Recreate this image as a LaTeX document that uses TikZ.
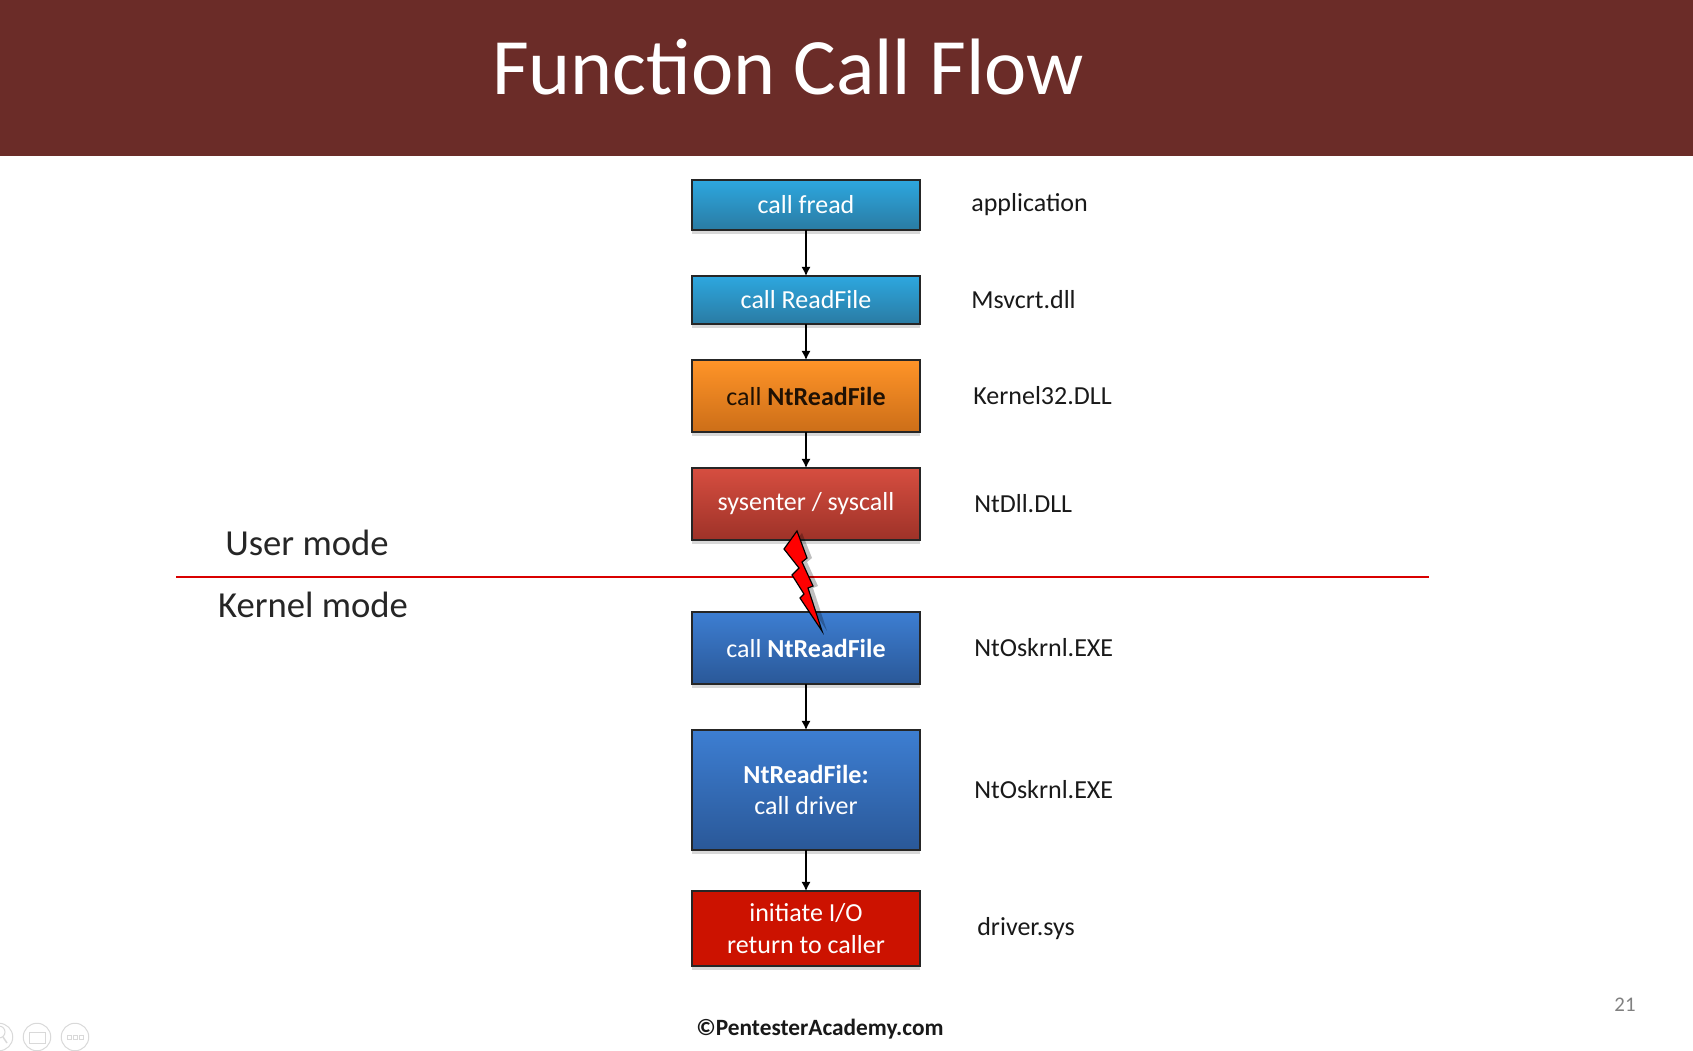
\documentclass[tikz,border=0pt]{standalone}
\usepackage{fontspec}
\setmainfont{Carlito}
\usetikzlibrary{arrows.meta,positioning,shadows}

\begin{document}
\begin{tikzpicture}[
    x=0.6pt, y=-0.6pt,
    callbox/.style={draw=black!85, line width=0.9pt, minimum width=136.8pt, inner sep=0pt, outer sep=0pt, align=center,
      text=white, font=\fontsize{15.6}{19}\selectfont,
      drop shadow={opacity=.3, shadow xshift=0pt, shadow yshift=-2.4pt}},
    bluebox/.style={callbox, top color=blue1top, bottom color=blue1bot},
    orangebox/.style={callbox, top color=orangetop, bottom color=orangebot, text=black!85!orangebot},
    redbox/.style={callbox, top color=red1top, bottom color=red1bot},
    deepbox/.style={callbox, top color=deeptop, bottom color=deepbot},
    solidbox/.style={callbox, fill=solidred},
    dll/.style={inner sep=0pt, anchor=west, font=\fontsize{15.6}{19}\selectfont, text=black!90},
    mode/.style={inner sep=0pt, font=\fontsize{22}{26}\selectfont, text=black!85},
    arrow/.style={-{Latex[length=5.5pt,width=5.5pt]}, line width=0.8pt},
    roundicon/.style={circle, draw=black!15, line width=0.6pt, minimum size=16.5pt, inner sep=0pt}
  ]
    \definecolor{bartitle}{HTML}{6B2C28}
    \definecolor{blue1top}{HTML}{2DA7DF}
    \definecolor{blue1bot}{HTML}{2A7BA3}
    \definecolor{orangetop}{HTML}{FF9428}
    \definecolor{orangebot}{HTML}{CC6E18}
    \definecolor{red1top}{HTML}{D64E40}
    \definecolor{red1bot}{HTML}{9E3228}
    \definecolor{deeptop}{HTML}{3D7ED2}
    \definecolor{deepbot}{HTML}{2A5898}
    \definecolor{solidred}{HTML}{CC1200}
    \useasboundingbox (0,0) rectangle (1693,1051);
    \fill[white] (0,0) rectangle (1693,1051);
    \fill[bartitle] (0,0) rectangle (1693,156);
    \node[text=white, inner sep=0pt, font=\fontsize{48}{56}\selectfont] (title) at (788,67) {Function Call Flow};

    \node[bluebox, minimum height=30pt] (fread) at (806,205) {call fread};
    \node[bluebox, minimum height=28.8pt, below=27.6pt of fread] (readfile) {call ReadFile};
    \node[orangebox, minimum height=43.2pt, below=21.6pt of readfile] (ntread) {call \textbf{NtReadFile}};
    \node[redbox, minimum height=43.2pt, below=21.6pt of ntread] (sys) {sysenter / syscall};
    \node[deepbox, minimum height=43.2pt, below=43.2pt of sys] (kcall) {call \textbf{NtReadFile}};
    \node[deepbox, minimum height=72pt, below=27.6pt of kcall] (kread) {\textbf{NtReadFile:}\\call driver};
    \node[solidbox, minimum height=45pt, below=24.6pt of kread] (driver) {initiate I/O\\return to caller};

    \node[dll, right=30.6pt of fread] (appname) {application};
    \node[dll, right=30.6pt of readfile] (msvcrt) {Msvcrt.dll};
    \node[dll, right=31.8pt of ntread] (k32) {Kernel32.DLL};
    \node[dll, right=32.4pt of sys] (ntdll) {NtDll.DLL};
    \node[dll, right=32.4pt of kcall] (nto1) {NtOskrnl.EXE};
    \node[dll, right=32.4pt of kread] (nto2) {NtOskrnl.EXE};
    \node[dll, right=34.2pt of driver] (drvsys) {driver.sys};

    \foreach \a/\b in {fread/readfile,readfile/ntread,ntread/sys,kcall/kread,kread/driver} \draw[arrow] (\a) -- (\b);

    % mode boundary
    \coordinate (lineL) at (176,577);
    \coordinate (lineR) at (1429,577);
    \draw[red!85!black, line width=1.6pt] (lineL) -- (lineR);
    \node[mode] (usermode) at (307,543) {User mode};
    \node[mode] (kernelmode) at (313,605) {Kernel mode};

    % lightning
    \fill[black, opacity=.25] (802,533) -- (812,558) -- (807,562) -- (818,586) -- (813,588) -- (827,631) -- (805,598) -- (809,594) -- (797,575) -- (804,568) -- (789,549) -- cycle;
    \draw[fill=red, draw=black, line width=0.7pt, line join=miter] (797,531) -- (807,558) -- (802,562) -- (813,586) -- (808,588) -- (822,631)
      -- (800,598) -- (804,594) -- (792,575) -- (799,568) -- (784,549) -- cycle;

    \node[inner sep=0pt, font=\fontsize{14}{16}\selectfont\bfseries, text=black!90] (footer) at (820,1029) {©PentesterAcademy.com};
    \node[inner sep=0pt, font=\fontsize{12.5}{15}\selectfont, text=black!50] (pagenum) at (1625,1005) {21};

    % slide show icons
    \node[roundicon] (zoomicon) at (-1,1037) {};
    \node[roundicon] (kbdicon) at (37,1037) {};
    \node[roundicon] (moreicon) at (75,1037) {};
    \draw[black!15, line width=0.6pt] (-1,1032) circle (6);
    \draw[black!15, line width=0.9pt] (3,1037) -- (7,1043);
    \draw[black!15, line width=0.6pt] (29,1032) rectangle (45,1043);
    \foreach \i in {69,75,81} \draw[black!15, line width=0.5pt] (\i-2,1035) rectangle (\i+2,1039);
  \end{tikzpicture}
\end{document}
